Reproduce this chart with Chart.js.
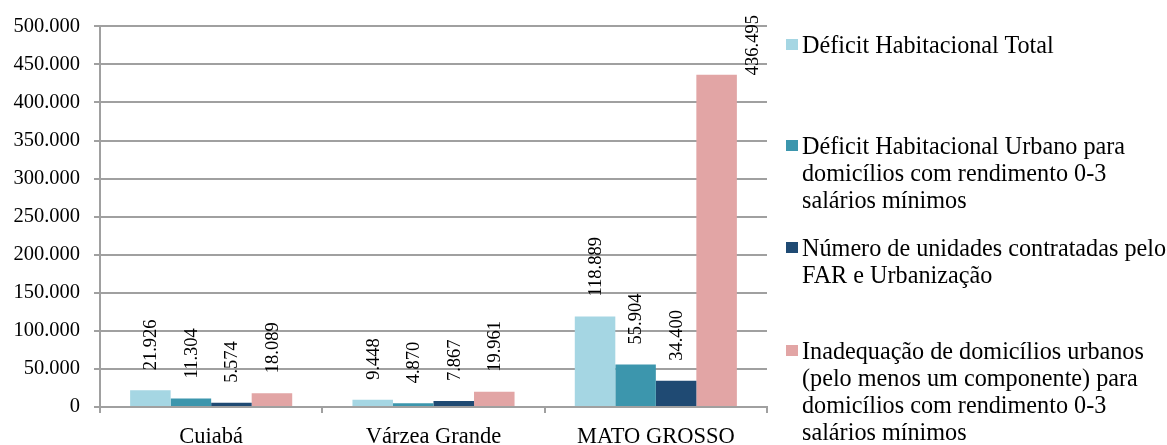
<!DOCTYPE html>
<html lang="pt-BR">
<head>
<meta charset="utf-8">
<title>Déficit habitacional – Mato Grosso</title>
<script src="https://cdn.jsdelivr.net/npm/chart.js@4.4.1/dist/chart.umd.min.js"></script>
<style>
  html, body { margin: 0; padding: 0; background: #fff; }
  #wrap { position: relative; width: 1167px; height: 445px; overflow: hidden; }
  #chart { position: absolute; left: 0; top: 0; }
  .leg-item { position: absolute; left: 786px; font-family: "Liberation Serif", "Times New Roman", serif;
              font-size: 24.2px; line-height: 27px; color: #000; white-space: nowrap; }
  .leg-box { position: absolute; left: 0; width: 12px; height: 11px; }
  .leg-text { position: absolute; left: 16px; top: 0; }
</style>
</head>
<body>
<div id="wrap">
  <canvas id="chart" width="1167" height="445"></canvas>
  <div id="legend"></div>
</div>
<script>
// Categories (municípios / estado)
const categories = ["Cuiabá", "Várzea Grande", "MATO GROSSO"];

// Series names, split into the lines shown in the legend
const seriesNames = [
  ["Déficit Habitacional Total"],
  ["Déficit Habitacional Urbano para", "domicílios com rendimento 0-3", "salários mínimos"],
  ["Número de unidades contratadas pelo", "FAR e Urbanização"],
  ["Inadequação de domicílios urbanos", "(pelo menos um componente) para", "domicílios com rendimento 0-3", "salários mínimos"]
];

// Values per series, in category order
const deficitTotal      = [21926, 9448, 118889];
const deficitUrbano03   = [11304, 4870, 55904];
const unidadesFAR       = [5574, 7867, 34400];
const inadequacao03     = [18089, 19961, 436495];

// Y axis range and tick step
const yMin = 0;
const yMax = 500000;
const yStep = 50000;

const seriesValues = [deficitTotal, deficitUrbano03, unidadesFAR, inadequacao03];
const seriesColors = ["#a5d6e3", "#3c96ad", "#1f4a73", "#e2a5a5"];
const legendTops = [31, 132, 234, 337];

const serif = '"Liberation Serif", "Times New Roman", serif';
const gridGray = "#a0a0a0";

function fmt(v) {
  return String(Math.round(v)).replace(/\B(?=(\d{3})+(?!\d))/g, ".");
}

// Rotated value labels above each bar
const valueLabels = {
  id: "valueLabels",
  afterDatasetsDraw(chart) {
    const ctx = chart.ctx;
    ctx.save();
    ctx.font = "18.5px " + serif;
    ctx.fillStyle = "#000";
    ctx.textAlign = "left";
    ctx.textBaseline = "middle";
    chart.data.datasets.forEach((ds, di) => {
      chart.getDatasetMeta(di).data.forEach((bar, i) => {
        const text = fmt(ds.data[i]);
        const w = ctx.measureText(text).width;
        let x = bar.x + 1;
        let y = bar.y - 20;
        if (y - w < 12) {
          // no room above the bar: set it beside the bar, under the top edge
          x = bar.x + bar.width / 2 + 16;
          y = 15 + w;
        }
        ctx.save();
        ctx.translate(x, y);
        ctx.rotate(-Math.PI / 2);
        ctx.fillText(text, 0, 0);
        ctx.restore();
      });
    });
    ctx.restore();
  }
};

const chart = new Chart(document.getElementById("chart"), {
  type: "bar",
  data: {
    labels: categories,
    datasets: seriesValues.map((vals, i) => ({
      label: seriesNames[i].join(" "),
      data: vals,
      backgroundColor: seriesColors[i],
      borderWidth: 0,
      categoryPercentage: 0.729,
      barPercentage: 1.0
    }))
  },
  options: {
    responsive: false,
    animation: false,
    layout: { padding: { left: 0, top: 20, right: 400, bottom: 0 } },
    plugins: { legend: { display: false }, tooltip: { enabled: false } },
    scales: {
      x: {
        grid: { drawOnChartArea: false, drawTicks: true, tickLength: 6, color: gridGray, lineWidth: 2, offset: true },
        border: { color: gridGray, width: 2 },
        ticks: { color: "#000", font: { family: serif, size: 22.5 }, padding: 11, maxRotation: 0 },
        afterFit(scale) { scale.height = 38; }
      },
      y: {
        min: yMin,
        max: yMax,
        grid: { color: gridGray, lineWidth: 2, tickLength: 6 },
        border: { color: gridGray, width: 2 },
        ticks: { stepSize: yStep, color: "#000", font: { family: serif, size: 20.5 }, padding: 14, callback: v => fmt(v) },
        afterFit(scale) { scale.width = 100; }
      }
    }
  },
  plugins: [valueLabels]
});

// Legend built from the chart's datasets
const legend = document.getElementById("legend");
chart.data.datasets.forEach((ds, i) => {
  const item = document.createElement("div");
  item.className = "leg-item";
  item.style.top = legendTops[i] + "px";
  const box = document.createElement("div");
  box.className = "leg-box";
  box.style.background = ds.backgroundColor;
  box.style.top = "8px";
  const txt = document.createElement("div");
  txt.className = "leg-text";
  seriesNames[i].forEach((line, k) => {
    if (k) txt.appendChild(document.createElement("br"));
    txt.appendChild(document.createTextNode(line));
  });
  item.appendChild(box);
  item.appendChild(txt);
  legend.appendChild(item);
});
</script>
</body>
</html>
